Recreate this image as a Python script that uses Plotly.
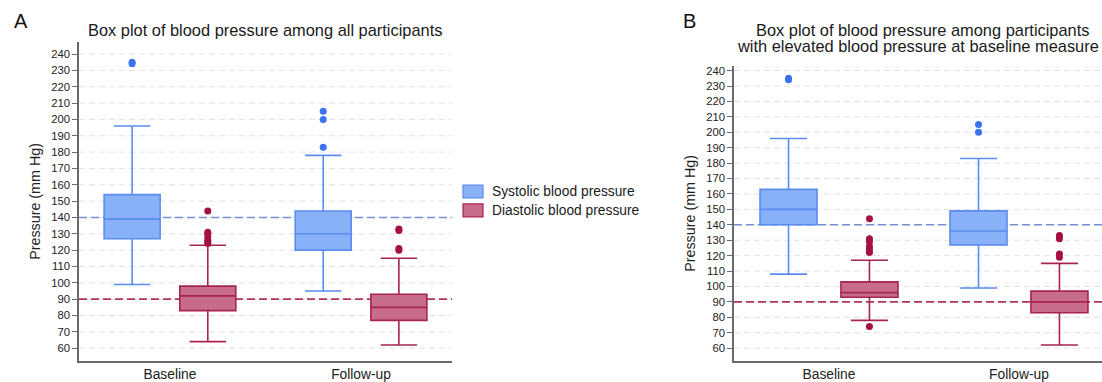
import plotly.graph_objects as go

# ---- data -----------------------------------------------------------------
categories = ["Baseline", "Follow-up"]
series_names = ["Systolic blood pressure", "Diastolic blood pressure"]
thresholds = [140, 90]          # systolic / diastolic cut-offs
y_ticks = list(range(60, 250, 10))

# Panel A: all participants
a_sys_low = [99, 95]
a_sys_q1 = [127, 120]
a_sys_med = [139, 130]
a_sys_q3 = [154, 144]
a_sys_high = [196, 178]
a_sys_out = [[235, 234], [205, 200, 183]]

a_dia_low = [64, 62]
a_dia_q1 = [83, 77]
a_dia_med = [92, 85]
a_dia_q3 = [98, 93]
a_dia_high = [123, 115]
a_dia_out = [[144, 131, 130, 128, 126, 125, 124], [133, 132, 121, 120]]

# Panel B: participants with elevated baseline blood pressure
b_sys_low = [108, 99]
b_sys_q1 = [140, 127]
b_sys_med = [150, 136]
b_sys_q3 = [163, 149]
b_sys_high = [196, 183]
b_sys_out = [[235, 234], [205, 200]]

b_dia_low = [78, 62]
b_dia_q1 = [93, 83]
b_dia_med = [96, 90]
b_dia_q3 = [103, 97]
b_dia_high = [117, 115]
b_dia_out = [[144, 131, 129, 126, 124, 122, 74], [133, 131, 121, 119]]

# ---- style ----------------------------------------------------------------
W, H = 1102, 382
FONT = "Liberation Sans, Arial, Helvetica, sans-serif"
BLUE_FILL = "rgba(137,177,247,1)"
BLUE_LINE = "#5b8cef"
BLUE_DOT = "#3a74ee"
BLUE_REF = "#7492d6"
RED_FILL = "rgba(200,108,142,1)"
RED_LINE = "#a8234f"
RED_DOT = "#a5103e"
RED_REF = "#b3335d"
GRID = "#e2e2e2"
AXIS = "#6a6a6a"


def px(x):
    return x / W


def py(y):
    return 1 - y / H


fig = go.Figure()

panels = [
    dict(xa="x", ya="y", off=0.198, width=0.293,
         sys=(a_sys_low, a_sys_q1, a_sys_med, a_sys_q3, a_sys_high, a_sys_out),
         dia=(a_dia_low, a_dia_q1, a_dia_med, a_dia_q3, a_dia_high, a_dia_out)),
    dict(xa="x2", ya="y2", off=0.213, width=0.30,
         sys=(b_sys_low, b_sys_q1, b_sys_med, b_sys_q3, b_sys_high, b_sys_out),
         dia=(b_dia_low, b_dia_q1, b_dia_med, b_dia_q3, b_dia_high, b_dia_out)),
]

for p in panels:
    for sign, stats, fill, line, dot, name in [
        (-1, p["sys"], BLUE_FILL, BLUE_LINE, BLUE_DOT, series_names[0]),
        (1, p["dia"], RED_FILL, RED_LINE, RED_DOT, series_names[1]),
    ]:
        low, q1, med, q3, high, outs = stats
        xs = [i + sign * p["off"] for i in range(len(categories))]
        fig.add_trace(go.Box(
            x=xs, lowerfence=low, q1=q1, median=med, q3=q3, upperfence=high,
            width=p["width"], whiskerwidth=0.65, boxpoints=False,
            fillcolor=fill, line=dict(color=line, width=1.6),
            name=name, showlegend=False, hoverinfo="skip",
            xaxis=p["xa"], yaxis=p["ya"],
        ))
        ox, oy = [], []
        for i, vals in enumerate(outs):
            for v in vals:
                ox.append(xs[i])
                oy.append(v)
        fig.add_trace(go.Scatter(
            x=ox, y=oy, mode="markers",
            marker=dict(color=dot, size=7, line=dict(width=0)),
            showlegend=False, hoverinfo="skip",
            xaxis=p["xa"], yaxis=p["ya"],
        ))

# light dashed grid, then dashed reference lines on top of it (both beneath boxes)
shapes = []
for xa, ya in [("x", "y"), ("x2", "y2")]:
    for v in y_ticks:
        shapes.append(dict(
            type="line", xref=f"{xa} domain", yref=ya, x0=0, x1=1, y0=v, y1=v,
            line=dict(color=GRID, width=1, dash="6px,4px"), layer="below",
        ))
    for thr, col in zip(thresholds, [BLUE_REF, RED_REF]):
        shapes.append(dict(
            type="line", xref=f"{xa} domain", yref=ya, x0=0, x1=1, y0=thr, y1=thr,
            line=dict(color=col, width=1.6, dash="8px,4px"), layer="below",
        ))

# legend swatches
legend_items = [(series_names[0], BLUE_FILL, BLUE_LINE, 185),
                (series_names[1], RED_FILL, RED_LINE, 204)]
annotations = []
for name, fill, line, top in legend_items:
    shapes.append(dict(
        type="rect", xref="paper", yref="paper",
        x0=px(463), x1=px(483), y0=py(top + 13), y1=py(top),
        fillcolor=fill, line=dict(color=line, width=1.2),
    ))
    annotations.append(dict(
        text=name, xref="paper", yref="paper", x=px(490), y=py(top + 7),
        xanchor="left", yanchor="middle", showarrow=False,
        font=dict(family=FONT, size=13.8, color="#1a1a1a"),
    ))

# panel letters and titles
title_font = dict(family=FONT, size=16.4, color="#1a1a1a")
annotations += [
    dict(text="A", x=px(12), y=py(20), xanchor="left", yanchor="middle",
         font=dict(family=FONT, size=20, color="#111")),
    dict(text="B", x=px(681), y=py(20), xanchor="left", yanchor="middle",
         font=dict(family=FONT, size=20, color="#111")),
    dict(text="Box plot of blood pressure among all participants",
         x=px(265), y=py(29), xanchor="center", yanchor="middle", font=title_font),
    dict(text="Box plot of blood pressure among participants",
         x=px(922), y=py(29), xanchor="center", yanchor="middle", font=title_font),
    dict(text="with elevated blood pressure at baseline measure",
         x=px(1101), y=py(45), xanchor="right", yanchor="middle", font=title_font),
]
for a in annotations:
    a.setdefault("xref", "paper")
    a.setdefault("yref", "paper")
    a.setdefault("showarrow", False)

yaxis_common = dict(
    tickmode="array", tickvals=y_ticks, ticktext=[str(v) for v in y_ticks],
    ticks="outside", ticklen=5, tickcolor=AXIS, tickwidth=1,
    tickfont=dict(family=FONT, size=11.3, color="#222"),
    showline=True, linecolor=AXIS, linewidth=1.5,
    showgrid=False, zeroline=False,
    title=dict(text="Pressure (mm Hg)", font=dict(family=FONT, size=14.3, color="#222"),
               standoff=7),
)
xaxis_common = dict(
    tickmode="array", tickvals=list(range(len(categories))), ticktext=categories,
    ticks="", showline=True, linecolor=AXIS, linewidth=1.5,
    showgrid=False, zeroline=False,
    tickfont=dict(family=FONT, size=13.8, color="#222"),
)

fig.update_layout(
    width=W, height=H,
    margin=dict(l=0, r=0, t=0, b=0),
    paper_bgcolor="white", plot_bgcolor="white",
    showlegend=False,
    xaxis=dict(xaxis_common, domain=[px(79), px(452)], range=[-0.476, 1.476], anchor="y"),
    yaxis=dict(yaxis_common, domain=[py(362), py(41)], range=[52.1, 247.5], anchor="x"),
    xaxis2=dict(xaxis_common, domain=[px(734), 1.0], range=[-0.5, 1.437], anchor="y2"),
    yaxis2=dict(yaxis_common, domain=[py(362), py(65)], range=[51.6, 243.2], anchor="x2"),
    shapes=shapes,
    annotations=annotations,
)

fig.write_html("out.html")
